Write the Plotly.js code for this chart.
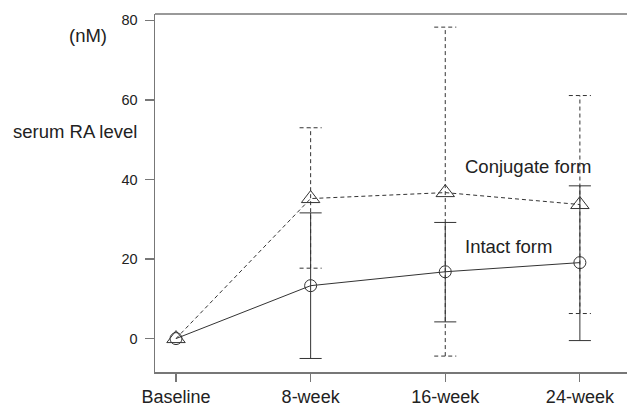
<!DOCTYPE html>
<html>
<head>
<meta charset="utf-8">
<script src="https://cdn.plot.ly/plotly-3.0.1.min.js"></script>
<style>html,body{margin:0;padding:0;overflow:hidden;background:#fff}</style>
</head>
<body>
<div id="chart" style="width:627px;height:407px"></div>
<script>
// ---- data ----
var categories = ["Baseline", "8-week", "16-week", "24-week"];
var intactMean = [0, 13.3, 16.8, 19.1];
var intactUpper = [0, 31.6, 29.2, 38.4];
var intactLower = [0, -5.0, 4.2, -0.5];
var conjMean = [0, 35.2, 36.7, 33.7];
var conjUpper = [0, 53.0, 78.3, 61.1];
var conjLower = [0, 17.7, -4.4, 6.3];
var yTicks = [0, 20, 40, 60, 80];

var xs = categories.map(function (c, i) { return i; });
var capHalf = 0.082;
var ink = "#333333";
var dashPat = "4px,3px";

// error bars (vertical + caps) built from the upper/lower arrays
function errorSegments(upper, lower) {
  var ex = [], ey = [];
  for (var i = 0; i < xs.length; i++) {
    if (upper[i] === lower[i]) continue;
    ex.push(xs[i], xs[i], null);
    ey.push(lower[i], upper[i], null);
    ex.push(xs[i] - capHalf, xs[i] + capHalf, null);
    ey.push(upper[i], upper[i], null);
    ex.push(xs[i] - capHalf, xs[i] + capHalf, null);
    ey.push(lower[i], lower[i], null);
  }
  return {x: ex, y: ey};
}
var conjErr = errorSegments(conjUpper, conjLower);
var intactErr = errorSegments(intactUpper, intactLower);

var traces = [
  {
    x: conjErr.x, y: conjErr.y, type: "scatter", mode: "lines",
    line: {color: ink, width: 1, dash: dashPat},
    hoverinfo: "skip", showlegend: false
  },
  {
    x: intactErr.x, y: intactErr.y, type: "scatter", mode: "lines",
    line: {color: ink, width: 1},
    hoverinfo: "skip", showlegend: false
  },
  {
    x: xs, y: conjMean, type: "scatter", mode: "lines+markers",
    name: "Conjugate form",
    line: {color: ink, width: 1, dash: dashPat},
    marker: {symbol: "triangle-up-open", size: 16, color: ink, line: {width: 1, color: ink}},
    showlegend: false
  },
  {
    x: xs, y: intactMean, type: "scatter", mode: "lines+markers",
    name: "Intact form",
    line: {color: ink, width: 1},
    marker: {symbol: "circle-open", size: 12, color: ink, line: {width: 1, color: ink}},
    showlegend: false
  }
];

var font = "Liberation Sans, Arial, Helvetica, sans-serif";
var layout = {
  width: 627, height: 407,
  margin: {l: 155, r: 0, t: 14, b: 35},
  paper_bgcolor: "#fff", plot_bgcolor: "#fff",
  font: {family: font, color: "#222", size: 14},
  showlegend: false,
  xaxis: {
    range: [-0.156, 3.35],
    tickvals: xs, ticktext: categories,
    showgrid: false, zeroline: false,
    showline: true, linecolor: "#777", linewidth: 1.5,
    ticks: "outside", ticklen: 8, tickcolor: "#777", tickwidth: 1.2,
    tickfont: {size: 18, color: "#222"},
    ticklabelstandoff: 0
  },
  yaxis: {
    range: [-8.4, 81.6],
    tickvals: yTicks,
    showgrid: false, zeroline: false,
    showline: true, linecolor: "#777", linewidth: 1.5,
    ticks: "outside", ticklen: 9, tickcolor: "#777", tickwidth: 1.2,
    tickfont: {size: 14.5, color: "#222"},
    ticklabelstandoff: 4
  },
  shapes: [
    {type: "line", xref: "paper", yref: "paper", x0: 0, x1: 1, y0: 1, y1: 1,
     line: {color: "#777", width: 1.5}}
  ],
  annotations: [
    {text: "(nM)", xref: "paper", yref: "paper", x: -155/472 + 88/472, y: 1, yshift: -21,
     xanchor: "center", yanchor: "middle", showarrow: false, font: {size: 18.5, color: "#222"}},
    {text: "serum RA level", xref: "paper", yref: "paper", x: -155/472 + 75/472, y: 1, yshift: -117,
     xanchor: "center", yanchor: "middle", showarrow: false, font: {size: 18.5, color: "#222"}},
    {text: "Conjugate form", xref: "x", yref: "y", x: 2.13, y: 43.3,
     xanchor: "left", yanchor: "middle", showarrow: false, font: {size: 18.5, color: "#222"}},
    {text: "Intact form", xref: "x", yref: "y", x: 2.13, y: 23.2,
     xanchor: "left", yanchor: "middle", showarrow: false, font: {size: 18.5, color: "#222"}}
  ]
};

Plotly.newPlot("chart", traces, layout, {staticPlot: true, displayModeBar: false});
</script>
</body>
</html>
